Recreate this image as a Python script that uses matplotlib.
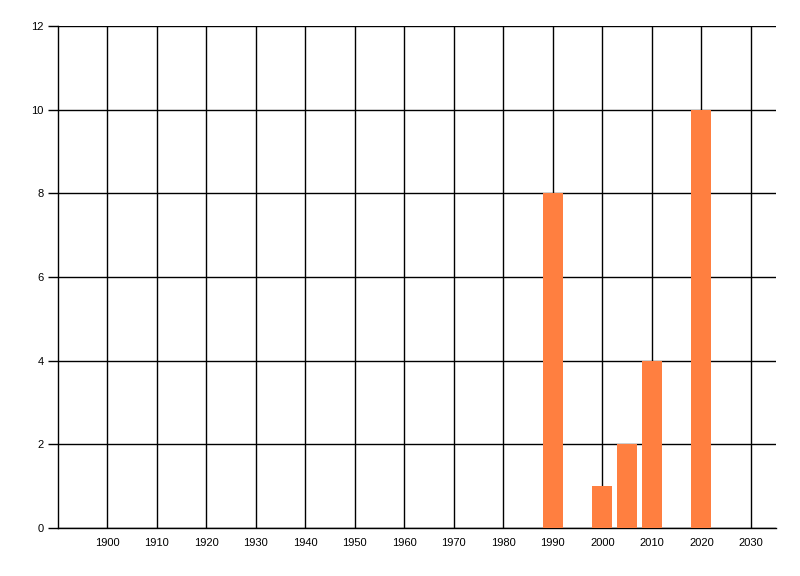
import matplotlib.pyplot as plt

# Data
years = [1990, 2000, 2005, 2010, 2020]
counts = [8, 1, 2, 4, 10]
x_ticks = list(range(1900, 2031, 10))
y_ticks = list(range(0, 13, 2))

plt.rcParams['font.family'] = ['Liberation Sans', 'DejaVu Sans']

fig = plt.figure(figsize=(8, 5.76), dpi=100)
ax = fig.add_axes([0.0719, 0.0833, 0.8977, 0.8716])

ax.bar(years, counts, width=4, color="#FF7F40", zorder=3)

ax.set_xlim(1890, 2035)
ax.set_ylim(0, 12)
ax.set_xticks(x_ticks)
ax.set_yticks(y_ticks)
ax.grid(True, color="black", lw=1, zorder=1)
ax.set_axisbelow(True)

for side in ("top", "right"):
    ax.spines[side].set_visible(False)
for side in ("left", "bottom"):
    ax.spines[side].set_linewidth(1)

ax.tick_params(axis="x", length=0, pad=7, labelsize=8, colors="black")
ax.tick_params(axis="y", length=7, width=1, pad=3, labelsize=8, colors="black")

fig.savefig("out.png", dpi=100)
